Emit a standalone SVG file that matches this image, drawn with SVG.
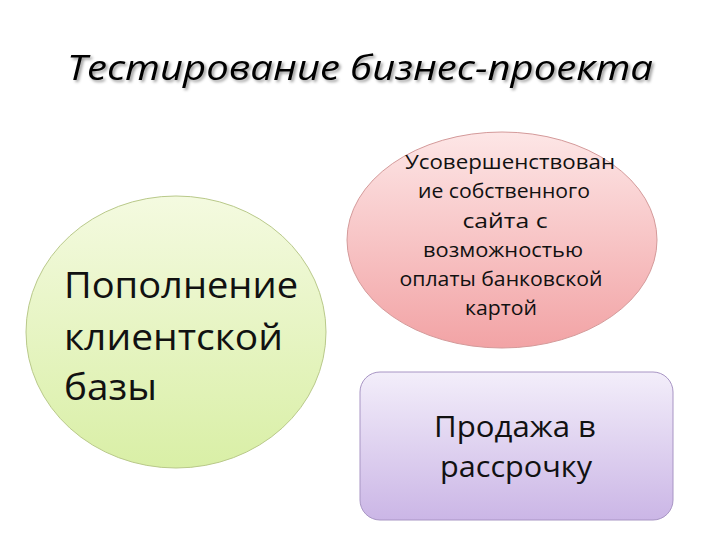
<svg xmlns="http://www.w3.org/2000/svg" width="720" height="540" viewBox="0 0 720 540">
<defs>
<linearGradient id="gGreen" x1="0" y1="0" x2="0" y2="1"><stop offset="0" stop-color="#f4fae0"/><stop offset="1" stop-color="#d9efa6"/></linearGradient>
<linearGradient id="gPink" x1="0" y1="0" x2="0" y2="1"><stop offset="0" stop-color="#fde6e6"/><stop offset="1" stop-color="#f2a3a5"/></linearGradient>
<linearGradient id="gPurple" x1="0" y1="0" x2="0" y2="1"><stop offset="0" stop-color="#f3eefa"/><stop offset="1" stop-color="#cbb6e6"/></linearGradient>
<filter id="sh" x="-5%" y="-20%" width="110%" height="140%"><feDropShadow dx="2" dy="2" stdDeviation="1.5" flood-color="#000" flood-opacity="0.4"/></filter>
</defs>
<style>
.t{font-family:"Open Sans","Noto Sans","Liberation Sans",sans-serif;fill:#111;}
.title{font-family:"Open Sans","Liberation Sans",sans-serif;font-style:italic;font-size:35px;fill:#000;}
</style>
<rect width="720" height="540" fill="#fff"/>
<text class="title" x="360" y="80" text-anchor="middle" filter="url(#sh)" textLength="586" lengthAdjust="spacingAndGlyphs">Тестирование бизнес-проекта</text>
<g id="node-clients">
<ellipse cx="176" cy="332" rx="150" ry="136" fill="url(#gGreen)" stroke="#b9c98a" stroke-width="1"/>
<text class="t" font-size="36"><tspan x="64" y="298" textLength="234" lengthAdjust="spacingAndGlyphs">Пополнение</tspan><tspan x="64" y="350" textLength="219" lengthAdjust="spacingAndGlyphs">клиентской</tspan><tspan x="64" y="400" textLength="93" lengthAdjust="spacingAndGlyphs">базы</tspan></text>
</g>
<g id="node-site">
<ellipse cx="502" cy="240" rx="155" ry="108" fill="url(#gPink)" stroke="#d49a9a" stroke-width="1"/>
<text class="t" font-size="20.5" text-anchor="middle"><tspan x="510" y="169" textLength="210" lengthAdjust="spacingAndGlyphs">Усовершенствован</tspan><tspan x="504" y="198" textLength="172" lengthAdjust="spacingAndGlyphs">ие собственного</tspan><tspan x="505" y="228" textLength="85" lengthAdjust="spacingAndGlyphs">сайта с</tspan><tspan x="503" y="257" textLength="160" lengthAdjust="spacingAndGlyphs">возможностью</tspan><tspan x="501" y="286" textLength="203" lengthAdjust="spacingAndGlyphs">оплаты банковской</tspan><tspan x="501" y="315" textLength="72" lengthAdjust="spacingAndGlyphs">картой</tspan></text>
</g>
<g id="node-installment">
<rect x="360" y="372" width="313" height="148" rx="20" fill="url(#gPurple)" stroke="#a895c4" stroke-width="1"/>
<text class="t" font-size="30" text-anchor="middle"><tspan x="515" y="437" textLength="162" lengthAdjust="spacingAndGlyphs">Продажа в</tspan><tspan x="516" y="477" textLength="152" lengthAdjust="spacingAndGlyphs">рассрочку</tspan></text>
</g>
<g id="connectors"></g>
</svg>
